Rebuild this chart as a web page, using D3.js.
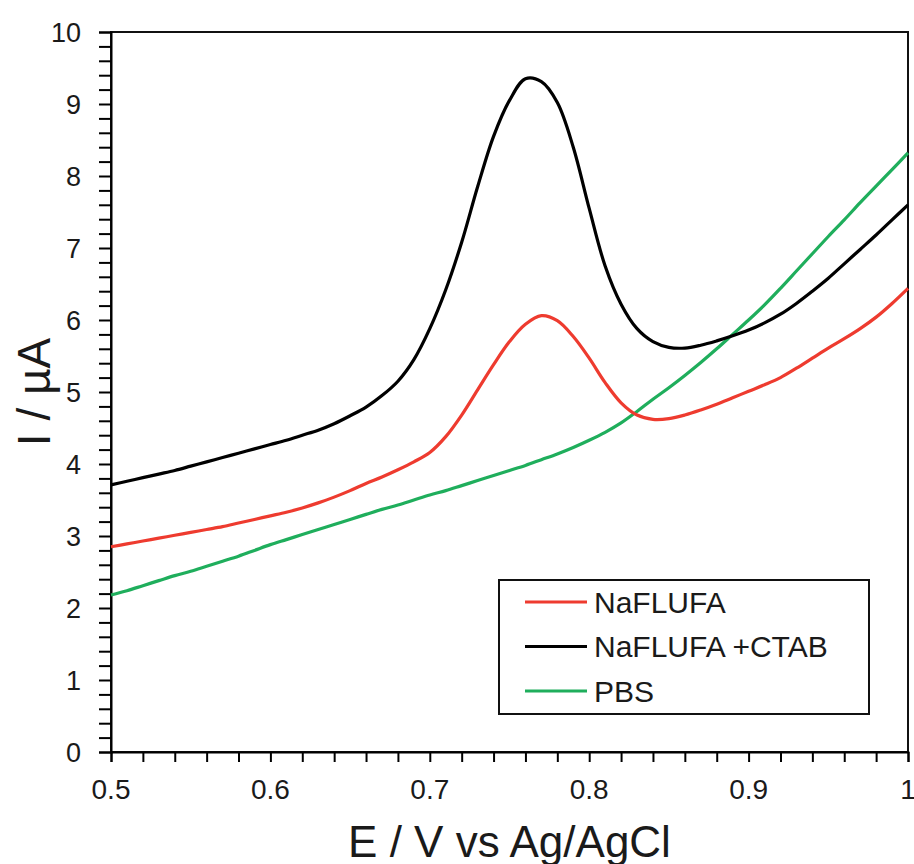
<!DOCTYPE html>
<html>
<head>
<meta charset="utf-8">
<script src="https://cdn.jsdelivr.net/npm/d3@7"></script>
<style>
  html, body { margin: 0; padding: 0; background: #fff; }
  svg { display: block; }
  text { font-family: "Liberation Sans", Arial, sans-serif; fill: #1a1a1a; }
</style>
</head>
<body>
<svg id="chart" width="914" height="864"></svg>
<script>
// Potential (V vs Ag/AgCl), sampled every 10 mV
const potential = [
  0.50, 0.51, 0.52, 0.53, 0.54, 0.55, 0.56, 0.57, 0.58, 0.59,
  0.60, 0.61, 0.62, 0.63, 0.64, 0.65, 0.66, 0.67, 0.68, 0.69,
  0.70, 0.71, 0.72, 0.73, 0.74, 0.75, 0.76, 0.77, 0.78, 0.79,
  0.80, 0.81, 0.82, 0.83, 0.84, 0.85, 0.86, 0.87, 0.88, 0.89,
  0.90, 0.91, 0.92, 0.93, 0.94, 0.95, 0.96, 0.97, 0.98, 0.99, 1.00
];

// Current (µA) for each measurement
const naflufa = [
  2.85, 2.89, 2.93, 2.97, 3.01, 3.05, 3.09, 3.13, 3.18, 3.23,
  3.28, 3.33, 3.39, 3.46, 3.54, 3.63, 3.73, 3.82, 3.92, 4.03,
  4.16, 4.38, 4.68, 5.03, 5.38, 5.70, 5.94, 6.06, 5.99, 5.77,
  5.47, 5.13, 4.85, 4.68, 4.62, 4.63, 4.68, 4.75, 4.83, 4.92,
  5.01, 5.10, 5.20, 5.33, 5.47, 5.61, 5.74, 5.88, 6.04, 6.23, 6.44
];
const naflufaCtab = [
  3.71, 3.76, 3.81, 3.86, 3.91, 3.97, 4.03, 4.09, 4.15, 4.21,
  4.27, 4.33, 4.40, 4.47, 4.56, 4.67, 4.79, 4.95, 5.15, 5.45,
  5.88, 6.42, 7.08, 7.85, 8.55, 9.05, 9.35, 9.31, 9.02, 8.40,
  7.55, 6.75, 6.22, 5.88, 5.70, 5.62, 5.61, 5.65, 5.71, 5.78,
  5.86, 5.96, 6.08, 6.23, 6.40, 6.58, 6.78, 6.98, 7.18, 7.39, 7.60
];
const pbs = [
  2.18, 2.24, 2.31, 2.38, 2.45, 2.51, 2.58, 2.65, 2.72, 2.80,
  2.88, 2.95, 3.02, 3.09, 3.16, 3.23, 3.30, 3.37, 3.43, 3.50,
  3.57, 3.63, 3.70, 3.77, 3.84, 3.91, 3.98, 4.06, 4.14, 4.23,
  4.33, 4.44, 4.57, 4.73, 4.90, 5.06, 5.23, 5.41, 5.60, 5.80,
  6.00, 6.21, 6.44, 6.68, 6.92, 7.16, 7.39, 7.63, 7.86, 8.09, 8.32
];

const seriesNames = ["NaFLUFA", "NaFLUFA +CTAB", "PBS"];
const seriesColors = ["#ee3b2f", "#000000", "#1fae5c"];
const seriesValues = [naflufa, naflufaCtab, pbs];

const xTickLabels = [0.5, 0.6, 0.7, 0.8, 0.9, 1];
const yTickLabels = [0, 1, 2, 3, 4, 5, 6, 7, 8, 9, 10];

const svg = d3.select("#chart");
const plot = { left: 111, right: 908, top: 32, bottom: 752 };

const x = d3.scaleLinear().domain([0.5, 1.0]).range([plot.left, plot.right]);
const y = d3.scaleLinear().domain([0, 10]).range([plot.bottom, plot.top]);

// Minor ticks: every 0.02 V on x, every 0.2 µA on y
const xMinor = d3.range(0, 26).map(i => 0.5 + i * 0.02);
const yMinor = d3.range(0, 51).map(i => i * 0.2);

// Frame around the plotting area
svg.append("rect")
  .attr("x", plot.left).attr("y", plot.top)
  .attr("width", plot.right - plot.left).attr("height", plot.bottom - plot.top)
  .attr("fill", "none").attr("stroke", "#111").attr("stroke-width", 2);

// x axis
const xAxis = svg.append("g")
  .attr("transform", `translate(0,${plot.bottom})`)
  .call(d3.axisBottom(x).tickValues(xMinor).tickSize(10).tickFormat(""));
xAxis.select(".domain").attr("stroke-width", 2);
xAxis.selectAll(".tick line").attr("stroke-width", 2);

svg.append("g").selectAll("text")
  .data(xTickLabels).join("text")
  .attr("x", d => x(d)).attr("y", 799)
  .attr("text-anchor", "middle")
  .attr("font-size", 28)
  .text(d => d3.format("")(d));

// y axis
const yAxis = svg.append("g")
  .attr("transform", `translate(${plot.left},0)`)
  .call(d3.axisLeft(y).tickValues(yMinor).tickSize(12).tickFormat(""));
yAxis.select(".domain").attr("stroke-width", 2);
yAxis.selectAll(".tick line").attr("stroke-width", 2);

svg.append("g").selectAll("text")
  .data(yTickLabels).join("text")
  .attr("x", 81).attr("y", d => y(d))
  .attr("dy", "0.36em")
  .attr("text-anchor", "end")
  .attr("font-size", 27)
  .text(d => d);

// Axis titles
svg.append("text")
  .attr("x", (plot.left + plot.right) / 2).attr("y", 857)
  .attr("text-anchor", "middle")
  .attr("font-size", 44)
  .text("E / V vs Ag/AgCl");

svg.append("text")
  .attr("transform", `translate(50,${(plot.top + plot.bottom) / 2}) rotate(-90)`)
  .attr("text-anchor", "middle")
  .attr("font-size", 46)
  .text("I / µA");

// Voltammograms
const line = d3.line()
  .x(d => x(d[0]))
  .y(d => y(d[1]))
  .curve(d3.curveCatmullRom.alpha(0.5));

const curveOrder = [2, 0, 1];
svg.append("g").selectAll("path")
  .data(curveOrder).join("path")
  .attr("d", i => line(potential.map((e, k) => [e, seriesValues[i][k]])))
  .attr("fill", "none")
  .attr("stroke", i => seriesColors[i])
  .attr("stroke-width", 3.2)
  .attr("stroke-linejoin", "round");

// Legend
const legend = svg.append("g");
legend.append("rect")
  .attr("x", 499).attr("y", 580).attr("width", 370).attr("height", 134)
  .attr("fill", "#fff").attr("stroke", "#111").attr("stroke-width", 2);

const legendRows = legend.selectAll("g.row")
  .data(seriesNames).join("g")
  .attr("class", "row")
  .attr("transform", (d, i) => `translate(0,${602 + i * 44.5})`);
legendRows.append("line")
  .attr("x1", 525).attr("x2", 587)
  .attr("stroke", (d, i) => seriesColors[i])
  .attr("stroke-width", 3.2);
legendRows.append("text")
  .attr("x", 594).attr("y", 0).attr("dy", "0.36em")
  .attr("font-size", 30)
  .text(d => d);
</script>
</body>
</html>
